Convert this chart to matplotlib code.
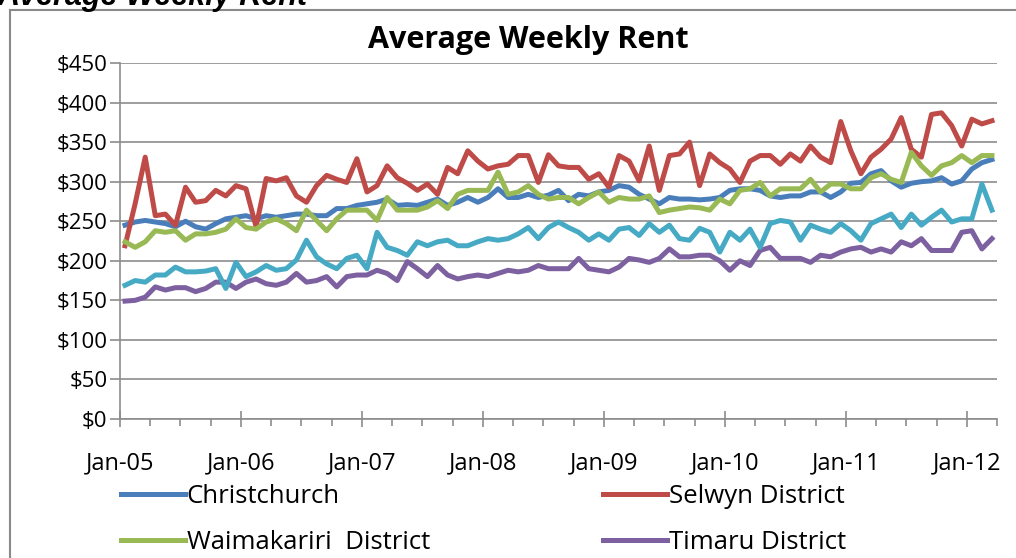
import numpy as np
import matplotlib.pyplot as plt
from matplotlib.patches import Rectangle

# Monthly average weekly rent, Jan-05 to Mar-12
christchurch = [245, 249, 251, 249, 247, 243, 250, 243, 240, 247, 253, 255, 257, 253, 257,
                255, 257, 259, 259, 257, 257, 266, 266, 270, 272, 274, 278, 270, 271,
                270, 274, 278, 270, 274, 280, 274, 280, 291, 280, 280, 284, 280, 283,
                289, 276, 284, 282, 287, 289, 295, 293, 284, 278, 272, 280, 278, 278, 277,
                278, 280, 289, 291, 291, 289, 282, 280, 282, 282, 287, 287, 280, 287,
                298, 299, 310, 314, 301, 293, 298, 300, 301, 305, 297, 301, 316, 324, 328]
selwyn = [219, 272, 331, 257, 259, 245, 293, 274, 276, 289, 282, 295, 291, 243, 304,
          301, 305, 282, 274, 295, 308, 303, 299, 329, 287, 295, 320, 305, 298,
          289, 297, 284, 318, 310, 339, 326, 316, 320, 322, 333, 333, 299, 334,
          320, 318, 318, 303, 310, 293, 333, 326, 301, 345, 289, 333, 335, 350, 295,
          335, 324, 316, 299, 326, 333, 333, 322, 335, 326, 345, 331, 324, 376,
          339, 310, 331, 341, 354, 381, 341, 331, 385, 387, 371, 345, 379, 373, 377]
waimakariri = [224, 217, 224, 238, 236, 238, 226, 234, 234, 236, 240, 253, 242, 240, 249,
               253, 247, 238, 264, 251, 238, 253, 264, 264, 264, 251, 280, 264, 264,
               264, 268, 276, 266, 284, 289, 289, 289, 312, 284, 287, 295, 284, 278,
               280, 280, 272, 280, 287, 274, 280, 278, 278, 282, 261, 264, 266, 268, 267,
               264, 278, 272, 289, 291, 299, 282, 291, 291, 291, 303, 287, 297, 297,
               291, 291, 305, 310, 303, 299, 337, 320, 308, 320, 324, 333, 324, 333, 333]
timaru = [149, 150, 154, 167, 163, 166, 166, 161, 165, 173, 173, 165, 173, 177, 171,
          169, 173, 184, 173, 175, 180, 167, 180, 182, 182, 188, 184, 175, 199,
          190, 180, 194, 182, 177, 180, 182, 180, 184, 188, 186, 188, 194, 190,
          190, 190, 203, 190, 188, 186, 192, 203, 201, 198, 203, 215, 205, 205, 207,
          207, 200, 188, 200, 194, 213, 217, 203, 203, 203, 198, 207, 205, 211,
          215, 217, 211, 215, 211, 224, 219, 228, 213, 213, 213, 236, 238, 215, 228]
# fifth series (its legend entry is cut off in the reference)
other = [169, 175, 173, 182, 182, 192, 186, 186, 187, 190, 165, 198, 180, 186, 194,
         188, 190, 201, 226, 205, 196, 190, 203, 207, 190, 236, 217, 213, 207,
         224, 219, 224, 226, 219, 219, 224, 228, 226, 228, 234, 242, 228, 242,
         249, 242, 236, 226, 234, 226, 240, 242, 232, 247, 236, 245, 228, 226, 241,
         236, 211, 236, 226, 240, 217, 247, 251, 249, 226, 245, 240, 236, 247,
         238, 226, 247, 253, 259, 242, 259, 245, 255, 264, 249, 253, 253, 297, 264]

year_labels = ['Jan-05', 'Jan-06', 'Jan-07', 'Jan-08', 'Jan-09', 'Jan-10', 'Jan-11', 'Jan-12']

plt.rcParams['font.family'] = ['Open Sans', 'DejaVu Sans']

W, H = 1016, 558
fig = plt.figure(figsize=(W / 100, H / 100), dpi=100)

# outer chart border (runs off the right and bottom of the screenshot)
fig.add_artist(Rectangle((10 / W, -0.2), 1.2, 1.2 - 10 / H, transform=fig.transFigure,
                         fill=False, edgecolor='#8a8a8a', linewidth=1.5))

# cut-off heading above the chart
fig.text(-2 / W, 1 - 5 / H, 'Average Weekly Rent', fontsize=22, fontweight='bold',
         fontstyle='italic', family='Liberation Sans', ha='left', va='baseline')

# chart title, centred on the chart object rather than the plot area
fig.text(528 / W, 1 - 40 / H, 'Average Weekly Rent', fontsize=22, fontweight='bold',
         ha='center', va='center')

ax = fig.add_axes([120 / W, 139 / H, 877 / W, 356 / H])

x = np.arange(len(christchurch)) + 0.5
lw = 3.6
l1, = ax.plot(x, christchurch, color='#4A7EBB', lw=lw, label='Christchurch')
l2, = ax.plot(x, selwyn, color='#BE4B48', lw=lw, label='Selwyn District')
l3, = ax.plot(x, waimakariri, color='#98B954', lw=lw, label='Waimakariri  District')
l4, = ax.plot(x, timaru, color='#7D60A0', lw=lw, label='Timaru District')
ax.plot(x, other, color='#46AAC5', lw=lw)

ax.set_xlim(0, 87)
ax.set_ylim(0, 450)

ax.set_yticks(np.arange(0, 451, 50))
ax.set_yticklabels([f'${v}' for v in range(0, 451, 50)])
ax.set_xticks(np.arange(0, 85, 12))
ax.set_xticklabels(year_labels)
ax.set_xticks(np.arange(0, 88, 3), minor=True)

grid_c = '#8c8c8c'
ax.grid(axis='y', color=grid_c, lw=1.2)
ax.set_axisbelow(True)
for s in ['top', 'right']:
    ax.spines[s].set_visible(False)
for s in ['left', 'bottom']:
    ax.spines[s].set_color(grid_c)
    ax.spines[s].set_linewidth(1.2)

ax.tick_params(axis='y', length=7, width=1.2, color=grid_c, labelsize=16, pad=2)
ax.tick_params(axis='x', which='major', direction='inout', length=12, width=1.2,
               color=grid_c, labelsize=17, pad=17)
ax.tick_params(axis='x', which='minor', direction='out', length=5, width=1.2, color=grid_c)

leg_kw = dict(loc='upper left', frameon=False, fontsize=18.5, handlelength=2.5,
              handletextpad=0.05, labelspacing=0.8, borderpad=0, borderaxespad=0)
leg1 = fig.legend([l1, l3], [l1.get_label(), l3.get_label()],
                  bbox_to_anchor=(121 / W, 1 - 484 / H), **leg_kw)
leg2 = fig.legend([l2, l4], [l2.get_label(), l4.get_label()],
                  bbox_to_anchor=(603 / W, 1 - 484 / H), **leg_kw)

fig.savefig('out.png', dpi=100)
